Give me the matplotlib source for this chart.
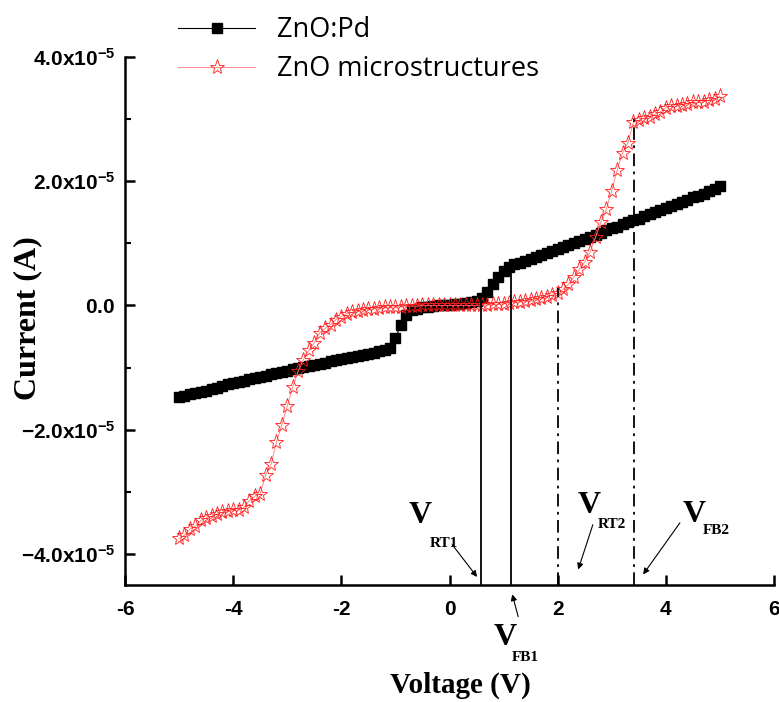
import matplotlib
matplotlib.use("Agg")
import matplotlib.pyplot as plt

plt.rcParams['axes.unicode_minus'] = False
plt.rcParams['mathtext.fontset'] = 'custom'
plt.rcParams['mathtext.rm'] = 'Liberation Sans:bold'
plt.rcParams['mathtext.bf'] = 'Liberation Sans:bold'
plt.rcParams['mathtext.it'] = 'Liberation Sans:bold'

# ---------------- data (current in units of 1e-5 A) ----------------
voltage = [-5.0, -4.9, -4.8, -4.7, -4.6, -4.5, -4.4, -4.3, -4.2, -4.1,
           -4.0, -3.9, -3.8, -3.7, -3.6, -3.5, -3.4, -3.3, -3.2, -3.1,
           -3.0, -2.9, -2.8, -2.7, -2.6, -2.5, -2.4, -2.3, -2.2, -2.1,
           -2.0, -1.9, -1.8, -1.7, -1.6, -1.5, -1.4, -1.3, -1.2, -1.1,
           -1.0, -0.9, -0.8, -0.7, -0.6, -0.5, -0.4, -0.3, -0.2, -0.1,
           0.0, 0.1, 0.2, 0.3, 0.4, 0.5, 0.6, 0.7, 0.8, 0.9,
           1.0, 1.1, 1.2, 1.3, 1.4, 1.5, 1.6, 1.7, 1.8, 1.9,
           2.0, 2.1, 2.2, 2.3, 2.4, 2.5, 2.6, 2.7, 2.8, 2.9,
           3.0, 3.1, 3.2, 3.3, 3.4, 3.5, 3.6, 3.7, 3.8, 3.9,
           4.0, 4.1, 4.2, 4.3, 4.4, 4.5, 4.6, 4.7, 4.8, 4.9, 5.0]

zno_pd = [-1.47, -1.45, -1.43, -1.41, -1.39, -1.37, -1.35, -1.33, -1.30, -1.27,
          -1.25, -1.23, -1.21, -1.19, -1.17, -1.15, -1.13, -1.11, -1.09, -1.07,
          -1.05, -1.03, -1.01, -0.99, -0.98, -0.96, -0.94, -0.92, -0.90, -0.88,
          -0.86, -0.85, -0.83, -0.81, -0.80, -0.78, -0.76, -0.74, -0.72, -0.68,
          -0.52, -0.32, -0.16, -0.08, -0.05, -0.03, -0.02, -0.01, 0.00, 0.00,
          0.01, 0.02, 0.03, 0.04, 0.05, 0.07, 0.12, 0.22, 0.34, 0.46,
          0.56, 0.62, 0.66, 0.69, 0.72, 0.75, 0.78, 0.81, 0.85, 0.88,
          0.91, 0.94, 0.98, 1.01, 1.04, 1.07, 1.11, 1.14, 1.17, 1.21,
          1.24, 1.27, 1.31, 1.34, 1.37, 1.40, 1.44, 1.47, 1.50, 1.54,
          1.57, 1.60, 1.63, 1.67, 1.70, 1.74, 1.77, 1.80, 1.84, 1.87, 1.92]

zno_micro = [-3.75, -3.70, -3.60, -3.55, -3.46, -3.42, -3.39, -3.36, -3.33, -3.31,
             -3.30, -3.29, -3.25, -3.14, -3.07, -3.03, -2.73, -2.56, -2.20, -1.92,
             -1.62, -1.32, -1.06, -0.87, -0.72, -0.60, -0.44, -0.37, -0.31, -0.23,
             -0.18, -0.13, -0.11, -0.09, -0.07, -0.06, -0.05, -0.04, -0.03, -0.03,
             -0.02, -0.02, -0.01, -0.01, -0.01, 0.00, 0.00, 0.00, 0.00, 0.00,
             0.00, 0.00, 0.00, 0.00, 0.00, 0.00, 0.01, 0.01, 0.02, 0.02,
             0.03, 0.04, 0.05, 0.06, 0.07, 0.09, 0.10, 0.12, 0.14, 0.17,
             0.20, 0.26, 0.34, 0.46, 0.58, 0.70, 0.86, 1.10, 1.34, 1.55,
             1.85, 2.18, 2.46, 2.62, 2.95, 2.98, 3.02, 3.04, 3.08, 3.12,
             3.18, 3.21, 3.21, 3.23, 3.25, 3.27, 3.27, 3.28, 3.31, 3.32, 3.37]

series_labels = ['ZnO:Pd', 'ZnO microstructures']

# marker voltages and the current where each vertical guide stops
guide_v = [0.58, 1.13, 2.0, 3.42]
guide_top = [0.07, 0.63, 0.28, 3.0]
guide_solid = [True, True, False, False]

xtick_vals = [-6, -4, -2, 0, 2, 4, 6]
xtick_labels = ['-6', '-4', '-2', '0', '2', '4', '6']
ytick_vals = [-4, -2, 0, 2, 4]
ytick_labels = [r'$\mathbf{-4.0x10^{-5}}$', r'$\mathbf{-2.0x10^{-5}}$', r'$\mathbf{0.0}$',
                r'$\mathbf{2.0x10^{-5}}$', r'$\mathbf{4.0x10^{-5}}$']

scale = 1e-5

# annotations: (main letter, subscript, main pos, sub pos, arrow tail, arrow head)
annots = [
    ('V', 'RT1', (-0.76, -3.50), (-0.36, -3.89), (0.05, -3.85), (0.51, -4.37)),
    ('V', 'FB1', (0.81, -5.46), (1.16, -5.72), (1.27, -5.01), (1.16, -4.65)),
    ('V', 'RT2', (2.36, -3.34), (2.75, -3.58), (2.65, -3.53), (2.38, -4.25)),
    ('V', 'FB2', (4.31, -3.49), (4.69, -3.68), (4.26, -3.50), (3.58, -4.33)),
]

# ---------------- figure ----------------
W, H = 779, 702
fig = plt.figure(figsize=(W / 100, H / 100), dpi=100)
ax = fig.add_axes([125 / W, 1 - 585 / H, (774 - 125) / W, (585 - 57) / H])

Ipd = [v * scale for v in zno_pd]
Imi = [v * scale for v in zno_micro]

ax.plot(voltage, Ipd, color='black', lw=0.8, marker='s', markersize=7.5,
        markerfacecolor='black', markeredgecolor='black', label=series_labels[0], zorder=3)
ax.plot(voltage, Imi, color='#ff8a8a', lw=0.7, marker='*', markersize=11,
        markerfacecolor='none', markeredgecolor='#ff1a1a', markeredgewidth=0.6,
        label=series_labels[1], zorder=4)

ymin, ymax = -4.5 * scale, 4.0 * scale
for v, t, solid in zip(guide_v, guide_top, guide_solid):
    ls = '-' if solid else (0, (7, 3, 1.5, 3))
    ax.plot([v, v], [ymin, t * scale], color='black', lw=1.3, ls=ls, zorder=5)

ax.set_xlim(-6, 6)
ax.set_ylim(ymin, ymax)

for s in ['top', 'right']:
    ax.spines[s].set_visible(False)
for s in ['left', 'bottom']:
    ax.spines[s].set_linewidth(1.8)

ax.set_xticks(xtick_vals)
ax.set_xticklabels(xtick_labels, fontfamily='Liberation Sans', fontweight='bold', fontsize=15)
ax.set_yticks([v * scale for v in ytick_vals])
ax.set_yticklabels(ytick_labels, fontsize=15)
ax.set_yticks([v * scale for v in [-3, -1, 1, 3]], minor=True)
ax.tick_params(axis='both', which='major', direction='in', length=7, width=1.8)
ax.tick_params(axis='y', which='minor', direction='in', length=4, width=1.5)
ax.tick_params(axis='x', which='major', pad=11)
ax.tick_params(axis='y', which='major', pad=7)

fig.text(28 / W, 1 - 318 / H, 'Current (A)', rotation=90, ha='center', va='center',
         fontfamily='Liberation Serif', fontweight='bold', fontsize=23)
fig.text(460 / W, 1 - 672 / H, 'Voltage (V)', ha='center', va='top',
         fontfamily='Liberation Serif', fontweight='bold', fontsize=21)

for main, sub, mpos, spos, tail, head in annots:
    ax.text(mpos[0], mpos[1] * scale, main, ha='left', va='baseline',
            fontfamily='Liberation Serif', fontweight='bold', fontsize=23, clip_on=False)
    ax.text(spos[0], spos[1] * scale, sub, ha='left', va='baseline',
            fontfamily='Liberation Serif', fontweight='bold', fontsize=11, clip_on=False)
    ax.annotate('', xy=(head[0], head[1] * scale), xytext=(tail[0], tail[1] * scale),
                arrowprops=dict(arrowstyle='-|>', color='black', lw=0.8,
                                mutation_scale=9, shrinkA=0, shrinkB=0),
                annotation_clip=False)

handles, labels = ax.get_legend_handles_labels()
leg = fig.legend(handles, labels, loc='upper left', bbox_to_anchor=(178 / W, 1 - 16 / H),
                 frameon=False, numpoints=1, handlelength=2.85, handletextpad=0.8,
                 labelspacing=0.42, borderpad=0, borderaxespad=0,
                 prop={'family': 'Open Sans', 'size': 19.5})

fig.savefig('out.png', dpi=100)
